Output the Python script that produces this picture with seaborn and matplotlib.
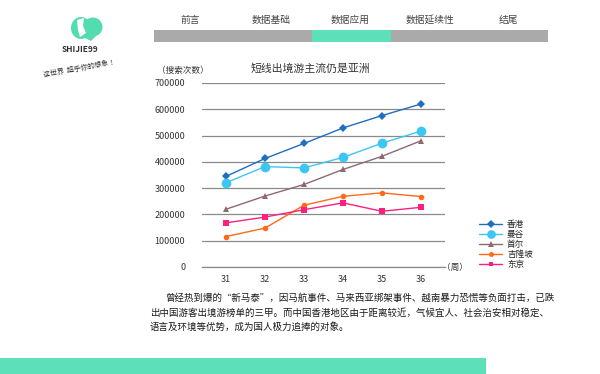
import matplotlib
matplotlib.use("Agg")
import matplotlib.pyplot as plt
import seaborn as sns
import pandas as pd
from matplotlib.patches import Rectangle, Ellipse, Polygon
from matplotlib.lines import Line2D

sns.set_style("white")
plt.rcParams['font.family'] = ['Noto Sans CJK SC', 'DejaVu Sans']

weeks = [31, 32, 33, 34, 35, 36]
hongkong = [345000, 413000, 470000, 529000, 576000, 620000]
bangkok = [321000, 382000, 377000, 417000, 471000, 517000]
seoul = [220000, 270000, 314000, 371000, 421000, 480000]
kualalumpur = [116000, 148000, 235000, 269000, 282000, 268000]
tokyo = [168000, 190000, 218000, 244000, 212000, 227000]

cities = ["香港", "曼谷", "首尔", "吉隆坡", "东京"]
series = [hongkong, bangkok, seoul, kualalumpur, tokyo]
colors = ["#1f6ec2", "#3ec6f2", "#8e6a70", "#ff6a1a", "#ff1f7c"]
markers = ["D", "o", "^", "o", "s"]
msizes = [4, 7, 5, 4, 3.8]

nav_labels = ["前言", "数据基础", "数据应用", "数据延续性", "结尾"]
title = "短线出境游主流仍是亚洲"
y_unit = "（搜索次数）"
x_unit = "（周）"
para = ["曾经热到爆的“新马泰”，因马航事件、马来西亚绑架事件、越南暴力恐慌等负面打击，已跌",
        "出中国游客出境游榜单的三甲。而中国香港地区由于距离较近，气候宜人、社会治安相对稳定、",
        "语言及环境等优势，成为国人极力追捧的对象。"]

df = pd.DataFrame({
    "week": weeks * len(cities),
    "value": sum(series, []),
    "city": sum([[c] * len(weeks) for c in cities], []),
})

W, H = 600, 374
fig = plt.figure(figsize=(6, 3.74), dpi=100)

def fx(px):
    return px / W

def fy(py):
    return 1 - py / H

# main chart axes
ax = fig.add_axes([fx(202), fy(267), fx(445) - fx(202), fy(83) - fy(267)])
for c, col, m, ms in zip(cities, colors, markers, msizes):
    sns.lineplot(data=df[df.city == c], x="week", y="value", color=col, marker=m,
                 markersize=ms, markeredgewidth=0, linewidth=1.0, ax=ax, label=c,
                 legend=False)
ax.set_xlim(30.38, 36.62)
ax.set_ylim(0, 700000)
ax.set_xticks(weeks)
ax.set_yticks(range(0, 700001, 100000))
ax.set_yticklabels([str(v) for v in range(0, 700001, 100000)])
ax.yaxis.grid(True, color="#8a8a8a", linewidth=0.9)
ax.xaxis.grid(False)
for s in ["top", "right", "left"]:
    ax.spines[s].set_visible(False)
ax.spines["bottom"].set_color("#8a8a8a")
ax.spines["bottom"].set_linewidth(0.9)
ax.tick_params(axis="both", length=0, labelsize=6.5, colors="#333333", pad=12)
ax.tick_params(axis="x", pad=6)
ax.set_xlabel("")
ax.set_ylabel("")

fig.text(fx(310), fy(68), title, fontsize=7.8, color="#333333", ha="center", va="center")
fig.text(fx(183), fy(70), y_unit, fontsize=6.2, color="#333333", ha="center", va="center")
fig.text(fx(455), fy(267), x_unit, fontsize=6.2, color="#333333", ha="center", va="center")

handles = [Line2D([0], [0], color=col, marker=m, markersize=ms * 0.9, markeredgewidth=0, linewidth=1.0)
           for col, m, ms in zip(colors, markers, msizes)]
fig.legend(handles, cities, loc="upper left", bbox_to_anchor=(fx(476), fy(217)),
           frameon=False, fontsize=6.2, handlelength=2.6, labelspacing=0.1,
           handletextpad=0.6, borderaxespad=0)

# navigation bar
fig.add_artist(Rectangle((fx(154), fy(42)), fx(548) - fx(154), fy(30) - fy(42),
                         transform=fig.transFigure, color="#aaaaaa", lw=0))
fig.add_artist(Rectangle((fx(312), fy(42)), fx(391) - fx(312), fy(30) - fy(42),
                         transform=fig.transFigure, color="#5ce0b9", lw=0))
for lab, px in zip(nav_labels, [190, 271, 350, 430, 508]):
    fig.text(fx(px), fy(20), lab, fontsize=7, color="#444444", ha="center", va="center")

# logo
green = "#52dcb0"
fig.add_artist(Ellipse((fx(81), fy(28)), fx(20), fy(0) - fy(22), transform=fig.transFigure,
                       color=green, lw=0))
fig.add_artist(Ellipse((fx(93), fy(27)), fx(19), fy(0) - fy(19), transform=fig.transFigure,
                       color=green, lw=0))
fig.add_artist(Polygon([(fx(73), fy(32)), (fx(101), fy(31)), (fx(91), fy(41))],
                       transform=fig.transFigure, color=green, lw=0))
fig.add_artist(Polygon([(fx(77), fy(20)), (fx(84), fy(18)), (fx(83), fy(26)), (fx(86), fy(33)),
                        (fx(80), fy(37)), (fx(78), fy(30))],
                       transform=fig.transFigure, color="white", lw=0))
fig.text(fx(80), fy(49), "SHIJIE99", fontsize=6, color="#333333", ha="center", va="center",
         fontweight="bold")
fig.text(fx(80), fy(69), "这世界  超乎你的想象 ！", fontsize=5, color="#333333",
         ha="center", va="center", rotation=10)

# paragraph
fig.text(fx(166), fy(298), para[0], fontsize=6.8, color="#1a1a1a", ha="left", va="center")
fig.text(fx(150), fy(313), para[1], fontsize=6.8, color="#1a1a1a", ha="left", va="center")
fig.text(fx(150), fy(327), para[2], fontsize=6.8, color="#1a1a1a", ha="left", va="center")

# bottom band
fig.add_artist(Rectangle((0, 0), fx(486), fy(358), transform=fig.transFigure,
                         color="#5ce0b9", lw=0))

fig.savefig("out.png", dpi=100)
